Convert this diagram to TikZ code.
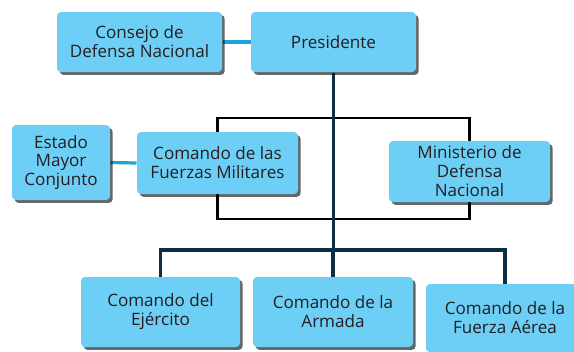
\documentclass[tikz,border=0pt]{standalone}
\usepackage{fontspec}
\setmainfont{Open Sans}
\usetikzlibrary{shadows,backgrounds}

\definecolor{boxcyan}{HTML}{6DCFF6}
\definecolor{linkblue}{HTML}{1BA3DC}
\definecolor{navy}{HTML}{0D2F45}
\definecolor{inktext}{HTML}{231F20}

\tikzset{every picture/.style={line width=0.75pt}}
\tikzset{
  orgbox/.style={draw=none, fill=boxcyan, rounded corners=3pt, align=center,
    inner sep=0pt, text=inktext, font=\fontsize{12.8pt}{14.2pt}\selectfont,
    drop shadow={shadow xshift=2pt, shadow yshift=-2.2pt, fill=black, opacity=0.6}},
  sidelink/.style={draw=linkblue, line width=2.4pt},
  mainlink/.style={draw=navy, line width=2.4pt},
  framelink/.style={draw=black, line width=1.7pt}
}

\begin{document}
\begin{tikzpicture}[x=0.75pt,y=0.75pt,yscale=-1,xscale=1]
\useasboundingbox (0,0) rectangle (574,351);
\clip (0,0) rectangle (574,351);

% Boxes
\node[orgbox, minimum width=165*0.75pt, minimum height=60*0.75pt] (consejo) at (139.5,42) {Consejo de\\Defensa Nacional};
\node[orgbox, minimum width=165*0.75pt, minimum height=60*0.75pt] (presidente) at (333.5,42) {Presidente};
\node[orgbox, minimum width=98*0.75pt, minimum height=75*0.75pt] (estado) at (61,162.5) {Estado\\Mayor\\Conjunto};
\node[orgbox, minimum width=161*0.75pt, minimum height=62*0.75pt] (comandofm) at (217.5,163) {Comando de las\\Fuerzas Militares};
\node[orgbox, minimum width=161*0.75pt, minimum height=61*0.75pt] (ministerio) at (469.5,171.5) {Ministerio de\\Defensa\\Nacional};
\node[orgbox, minimum width=159*0.75pt, minimum height=70*0.75pt] (ejercito) at (160.5,312) {Comando del\\Ejército};
\node[orgbox, minimum width=160*0.75pt, minimum height=70*0.75pt] (armada) at (333,312) {Comando de la\\Armada};
\node[orgbox, minimum width=158*0.75pt, minimum height=68*0.75pt] (aerea) at (505,318) {Comando de la\\Fuerza Aérea};

% Connectors
\coordinate (frametop) at (0,118);
\coordinate (framebot) at (0,219);
\coordinate (branch) at (0,250);
\begin{pgfonlayer}{background}
\draw[framelink] (comandofm.center |- frametop) rectangle (ministerio.center |- framebot);
\draw[sidelink] (consejo.east) -- (presidente.west);
\draw[sidelink] (estado.east) -- (comandofm.west);
\draw[mainlink] (presidente.south) -- (presidente.south |- branch);
\draw[mainlink] (ejercito.north) -- (ejercito.north |- branch) -- (aerea.north |- branch) -- (aerea.north);
\draw[mainlink] (armada.north) -- (armada.north |- branch);
\end{pgfonlayer}

\end{tikzpicture}
\end{document}
